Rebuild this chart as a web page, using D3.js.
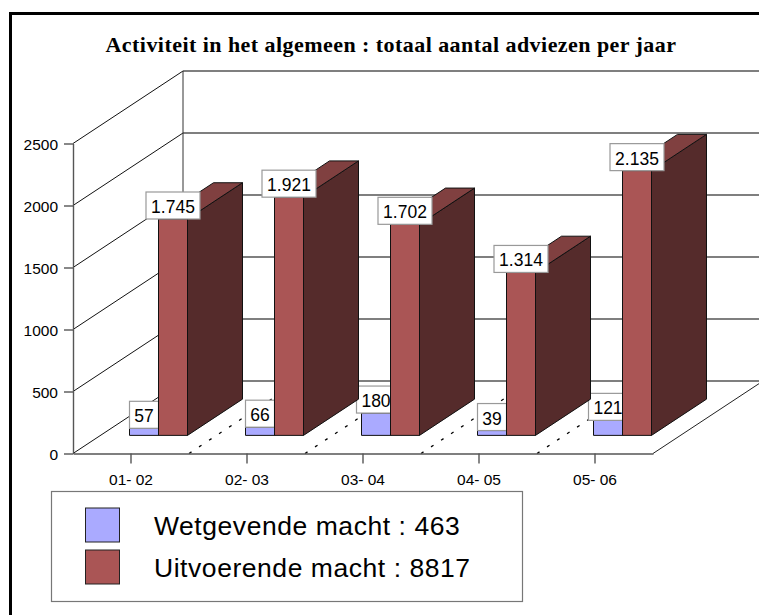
<!DOCTYPE html>
<html>
<head>
<meta charset="utf-8">
<script src="https://cdn.jsdelivr.net/npm/d3@7"></script>
<style>
	html, body { margin: 0; padding: 0; background: #fff; overflow: hidden; }
	svg { display: block; }
</style>
</head>
<body>
<script>
// * DATA
const categories = ["01- 02", "02- 03", "03- 04", "04- 05", "05- 06"];
const wetgevende = [57, 66, 180, 39, 121];
const uitvoerende = [1745, 1921, 1702, 1314, 2135];
const yTicks = [0, 500, 1000, 1500, 2000, 2500];
const seriesNames = ["Wetgevende macht", "Uitvoerende macht"];

// * SETUP
const width = 759;
const height = 615;
const sans = "'Liberation Sans', Arial, sans-serif";
const depthX = 110;
const depthY = 72.5;

const x0 = d3.scaleBand().domain(categories).range([73, 653]);
const x1 = d3
	.scaleBand()
	.domain(seriesNames)
	.range([0, x0.bandwidth()])
	.paddingOuter(1);
const y = d3.scaleLinear().domain([0, 2500]).range([453.5, 143.5]);
const format = d3.formatLocale({
	decimal: ",",
	thousands: ".",
	grouping: [3],
	currency: ["", ""],
}).format(",");

// z goes from 0 (front of the floor) to 1 (back wall)
const px = (xv, z) => xv + z * depthX;
const py = (yv, z) => yv - z * depthY;
const polygon = (pts) => pts.map((p) => p.join(",")).join(" ");

const svg = d3
	.select("body")
	.append("svg")
	.attr("width", width)
	.attr("height", height)
	.attr("viewBox", [0, 0, width, height]);

// * FRAME
svg.append("rect")
	.attr("x", 10.5)
	.attr("y", 13.5)
	.attr("width", 900)
	.attr("height", 800)
	.attr("fill", "#fff")
	.attr("stroke", "#000")
	.attr("stroke-width", 3);

// * TITLE
svg.append("text")
	.attr("x", 391)
	.attr("y", 52)
	.attr("text-anchor", "middle")
	.attr("font-family", "'Liberation Serif', 'Times New Roman', serif")
	.attr("font-weight", "bold")
	.attr("font-size", 22)
	.attr("letter-spacing", 0.45)
	.text("Activiteit in het algemeen : totaal aantal adviezen per jaar");

// * WALLS
const [xLeft, xRight] = x0.range();
const walls = svg.append("g").attr("fill", "none");

// back wall gridlines
walls.selectAll(".grid")
	.data(yTicks)
	.join("line")
	.attr("class", "grid")
	.attr("x1", px(xLeft, 1))
	.attr("x2", px(xRight, 1))
	.attr("y1", (d) => py(y(d), 1))
	.attr("y2", (d) => py(y(d), 1))
	.attr("stroke", "#555")
	.attr("stroke-width", 1.4);

// left wall diagonals
walls.selectAll(".diag")
	.data(yTicks)
	.join("line")
	.attr("class", "diag")
	.attr("x1", xLeft)
	.attr("x2", px(xLeft, 1))
	.attr("y1", (d) => y(d))
	.attr("y2", (d) => py(y(d), 1))
	.attr("stroke", "#111");

// back wall left edge and right edge of the floor
walls.append("line")
	.attr("x1", px(xLeft, 1))
	.attr("x2", px(xLeft, 1))
	.attr("y1", py(y(2500), 1))
	.attr("y2", py(y(0), 1))
	.attr("stroke", "#333");
walls.append("line")
	.attr("x1", xRight)
	.attr("x2", px(xRight, 1))
	.attr("y1", y(0))
	.attr("y2", py(y(0), 1))
	.attr("stroke", "#222");

// dotted category separators on the floor
walls.selectAll(".sep")
	.data(categories.slice(1))
	.join("line")
	.attr("class", "sep")
	.attr("x1", (d) => x0(d))
	.attr("x2", (d) => px(x0(d), 1))
	.attr("y1", y(0))
	.attr("y2", py(y(0), 1))
	.attr("stroke", "#000")
	.attr("stroke-width", 1.3)
	.attr("stroke-dasharray", "3 9");

// * AXES
const yAxis = svg.append("g")
	.attr("transform", `translate(${xLeft},0)`)
	.call(d3.axisLeft(y).tickValues(yTicks).tickFormat(d3.format("d")).tickSize(9).tickSizeOuter(0).tickPadding(6));
const xAxis = svg.append("g")
	.attr("transform", `translate(0,${y(0)})`)
	.call(d3.axisBottom(x0).tickSize(10).tickSizeOuter(0).tickPadding(10));
[yAxis, xAxis].forEach((g) => {
	g.attr("font-family", sans).attr("font-size", 15.5);
	g.selectAll("path, line").attr("stroke", "#555").attr("stroke-width", 1.4);
	g.selectAll("text").attr("fill", "#000");
});
yAxis.selectAll("text").attr("dy", "0.38em");

// * BARS
const zFront = 0.25;
const zBack = 0.75;
const bw = x1.bandwidth();

function drawBars(values, name, front, top, side) {
	const bars = svg.append("g")
		.selectAll("g")
		.data(values)
		.join("g")
		.attr("stroke", "#111")
		.attr("stroke-width", 1)
		.attr("stroke-linejoin", "round");
	const left = (d, i) => x0(categories[i]) + x1(name);

	bars.append("polygon")
		.attr("fill", side)
		.attr("points", (d, i) => {
			const r = left(d, i) + bw;
			return polygon([
				[px(r, zFront), py(y(0), zFront)],
				[px(r, zBack), py(y(0), zBack)],
				[px(r, zBack), py(y(d), zBack)],
				[px(r, zFront), py(y(d), zFront)],
			]);
		});
	bars.append("polygon")
		.attr("fill", top)
		.attr("points", (d, i) => {
			const l = left(d, i);
			return polygon([
				[px(l, zFront), py(y(d), zFront)],
				[px(l + bw, zFront), py(y(d), zFront)],
				[px(l + bw, zBack), py(y(d), zBack)],
				[px(l, zBack), py(y(d), zBack)],
			]);
		});
	bars.append("rect")
		.attr("fill", front)
		.attr("x", (d, i) => px(left(d, i), zFront))
		.attr("y", (d) => py(y(d), zFront))
		.attr("width", bw)
		.attr("height", (d) => y(0) - y(d));
}

function drawLabels(values, name) {
	const labels = svg.append("g")
		.attr("font-family", sans)
		.attr("font-size", 17.5)
		.selectAll("g")
		.data(values)
		.join("g")
		.attr("transform", (d, i) => {
			const cx = px(x0(categories[i]) + x1(name) + bw / 2, zFront);
			return `translate(${cx},${py(y(d), zFront)})`;
		});
	const texts = labels.append("text")
		.attr("text-anchor", "middle")
		.attr("y", -6)
		.text((d) => format(d));
	labels.insert("rect", "text")
		.each(function (d, i) {
			const w = Math.round(texts.nodes()[i].getComputedTextLength()) + 10;
			d3.select(this)
				.attr("x", -w / 2)
				.attr("width", w);
		})
		.attr("y", -27)
		.attr("height", 27)
		.attr("fill", "#fff")
		.attr("stroke", "#999")
		.attr("stroke-width", 1.2);
}

// blue first: its labels disappear behind the red bars
drawBars(wetgevende, seriesNames[0], "#AAAAFF", "#8080C0", "#55557F");
drawLabels(wetgevende, seriesNames[0]);
drawBars(uitvoerende, seriesNames[1], "#AA5555", "#804040", "#552B2B");
drawLabels(uitvoerende, seriesNames[1]);

// * LEGEND
const legend = svg.append("g");
legend.append("rect")
	.attr("x", 51.5)
	.attr("y", 491.5)
	.attr("width", 471)
	.attr("height", 110)
	.attr("fill", "#fff")
	.attr("stroke", "#777")
	.attr("stroke-width", 1.2);

const legendY = d3.scalePoint().domain(seriesNames).range([525, 567]);
const legendColor = d3.scaleOrdinal(seriesNames, ["#AAAAFF", "#AA5555"]);
const legendTotal = new Map([
	[seriesNames[0], d3.sum(wetgevende)],
	[seriesNames[1], d3.sum(uitvoerende)],
]);
const items = legend.selectAll(".item")
	.data(seriesNames)
	.join("g")
	.attr("class", "item")
	.attr("transform", (d) => `translate(0,${legendY(d)})`);
items.append("rect")
	.attr("x", 85.5)
	.attr("y", -17)
	.attr("width", 34)
	.attr("height", 34)
	.attr("fill", legendColor)
	.attr("stroke", "#222");
items.append("text")
	.attr("x", 154)
	.attr("y", 10)
	.attr("font-family", sans)
	.attr("font-size", 26.5)
	.attr("letter-spacing", 0.55)
	.text((d) => `${d} : ${legendTotal.get(d)}`);
</script>
</body>
</html>
